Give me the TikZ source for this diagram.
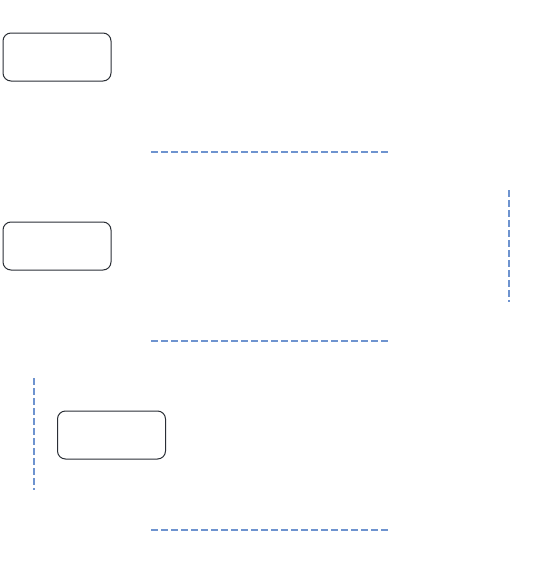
\documentclass[tikz,border=0pt]{standalone}
\usetikzlibrary{positioning}
\definecolor{lineblue}{HTML}{6E93CF}
\definecolor{boxgray}{HTML}{2A2E35}
\tikzset{
  stagebox/.style={draw=boxgray,line width=1pt,rounded corners=8pt,minimum width=108pt,minimum height=48pt,inner sep=0pt},
  sepline/.style={draw=lineblue,line width=1.5pt,dash pattern=on 7pt off 3pt}
}
\begin{document}
\begin{tikzpicture}[x=1pt,y=-1pt]
\useasboundingbox (0,0) rectangle (540,570);
\pgfmathsetmacro{\kystep}{189}
\pgfmathsetmacro{\kxl}{151}
\pgfmathsetmacro{\kxr}{389}
\node[stagebox] (s0) at (57,57) {};
\node[stagebox] (s1) at (57,246) {};
\node[stagebox] (s2) at (111.5,435) {};
\foreach \k in {0,1,2}{
  \coordinate (l\k) at (\kxl,152+\k*\kystep);
  \coordinate (r\k) at (\kxr,152+\k*\kystep);
  \draw[sepline] (l\k) -- (r\k);
}
\coordinate (va) at (509,190);
\coordinate (vb) at (509,302);
\draw[sepline] (va) -- (vb);
\coordinate (wa) at (34,378);
\coordinate (wb) at (34,490);
\draw[sepline] (wa) -- (wb);
\end{tikzpicture}
\end{document}
